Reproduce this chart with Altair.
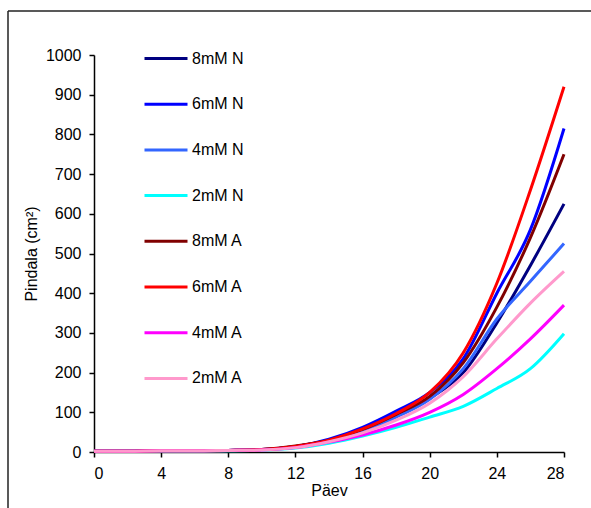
import altair as alt
import pandas as pd

days = [0, 2, 4, 6, 8, 10, 12, 14, 16, 18, 20, 22, 24, 26, 28]
series_names = ["8mM N", "6mM N", "4mM N", "2mM N", "8mM A", "6mM A", "4mM A", "2mM A"]
colors = ["#000080", "#0000FF", "#3366FF", "#00FFFF", "#800000", "#FF0000", "#FF00FF", "#FF99CC"]

n8 = [2, 2, 3, 3, 4, 6, 14, 30, 55, 90, 135, 200, 325, 470, 625]
n6 = [2, 2, 3, 3, 4, 6, 13, 32, 62, 103, 150, 235, 400, 560, 815]
n4 = [2, 2, 3, 3, 4, 6, 12, 28, 52, 88, 133, 210, 335, 430, 525]
n2 = [1, 1, 2, 2, 3, 5, 10, 22, 40, 62, 88, 115, 160, 210, 298]
a8 = [2, 2, 3, 3, 4, 6, 15, 30, 57, 95, 140, 225, 365, 540, 750]
a6 = [2, 2, 3, 3, 4, 6, 14, 30, 58, 97, 150, 250, 425, 660, 920]
a4 = [2, 2, 3, 3, 4, 5, 11, 25, 43, 68, 100, 145, 210, 285, 370]
a2 = [2, 2, 3, 3, 4, 5, 11, 26, 48, 80, 123, 190, 285, 375, 455]

values = [n8, n6, n4, n2, a8, a6, a4, a2]
rows = []
for k, (name, vals) in enumerate(zip(series_names, values)):
    for d, v in zip(days, vals):
        rows.append({"Päev": d, "Pindala": v, "Seeria": name, "k": k})
df = pd.DataFrame(rows)

lines = alt.Chart(df).mark_line(strokeWidth=3, interpolate="monotone").encode(
    x=alt.X("Päev:Q", scale=alt.Scale(domain=[0, 28], nice=False),
            axis=alt.Axis(values=[0, 4, 8, 12, 16, 20, 24, 28], title="Päev",
                          labelPadding=8, titlePadding=1, grid=False)),
    y=alt.Y("Pindala:Q", scale=alt.Scale(domain=[0, 1000], nice=False),
            axis=alt.Axis(values=list(range(0, 1001, 100)), title="Pindala (cm²)",
                          format="d", labelPadding=8, titlePadding=6, grid=False)),
    color=alt.Color("Seeria:N", sort=series_names,
                    scale=alt.Scale(domain=series_names, range=colors),
                    legend=alt.Legend(orient="none", legendX=49, legendY=-19.5, title=None,
                                      symbolType="stroke", symbolSize=1849,
                                      symbolStrokeWidth=3, labelFontSize=16,
                                      labelOffset=3, rowPadding=14.7, padding=0,
                                      labelColor="black")),
    detail="k:O",
    order="Päev:Q",
)

frame_data = alt.Data(values=[{"a": 1}])
left_line = alt.Chart(frame_data).mark_rule(color="#222", strokeWidth=1.5).encode(
    x=alt.value(-86), y=alt.value(-44), y2=alt.value(600))
top_line = alt.Chart(frame_data).mark_rule(color="#222", strokeWidth=1.5).encode(
    x=alt.value(-86), x2=alt.value(700), y=alt.value(-44))

chart = alt.layer(left_line, top_line, lines).properties(
    width=470, height=397,
    autosize=alt.AutoSizeParams(type="none"),
    padding={"left": 94, "top": 55, "right": 27, "bottom": 56},
).configure(
    font="Liberation Sans",
    background="white",
).configure_view(
    stroke=None,
).configure_axis(
    domainColor="black", domainWidth=1.5, tickColor="black", tickWidth=1.5,
    tickSize=5, labelColor="black", labelFontSize=16, titleColor="black",
    titleFontSize=16, titleFontWeight="normal", labelFont="Liberation Sans",
    titleFont="Liberation Sans",
).configure_legend(
    labelFont="Liberation Sans",
)

chart.save("out.html", embed_options={"renderer": "svg", "actions": False})
